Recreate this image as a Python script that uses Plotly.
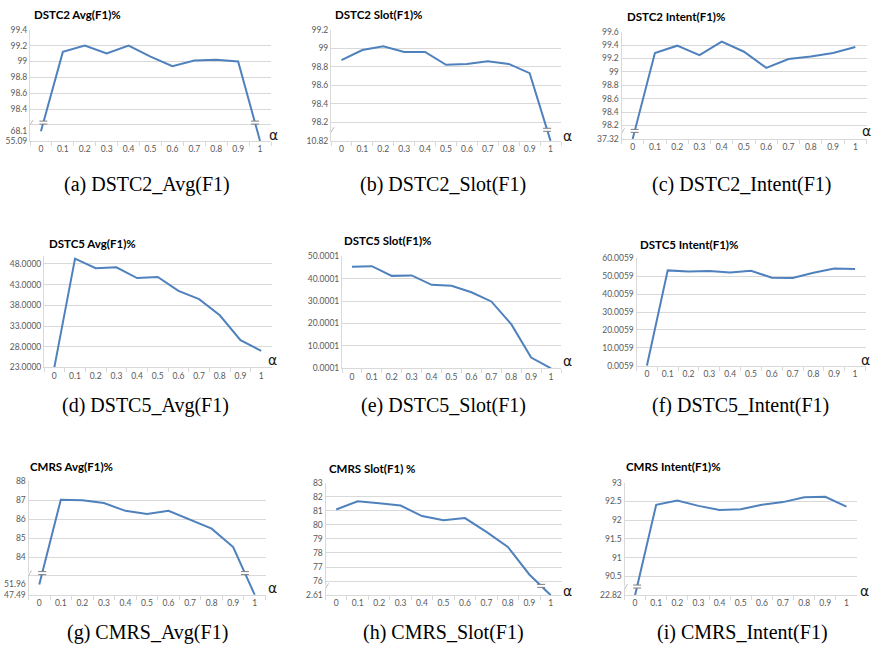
import numpy as np
import plotly.graph_objects as go

# ---------------- data ----------------
alpha = ["0", "0.1", "0.2", "0.3", "0.4", "0.5", "0.6", "0.7", "0.8", "0.9", "1"]

dstc2_avg = [68.1, 99.12, 99.20, 99.10, 99.20, 99.06, 98.94, 99.01, 99.02, 99.00, 55.09]
dstc2_slot = [98.87, 98.98, 99.02, 98.96, 98.96, 98.82, 98.83, 98.86, 98.83, 98.73, 10.82]
dstc2_intent = [37.32, 99.28, 99.39, 99.25, 99.45, 99.30, 99.06, 99.19, 99.23, 99.28, 99.37]

dstc5_avg = [23.0, 49.3, 47.0, 47.2, 44.6, 44.85, 41.5, 39.5, 35.6, 29.6, 27.0]
dstc5_slot = [45.3, 45.5, 41.2, 41.4, 37.2, 36.8, 33.9, 29.8, 19.7, 4.8, 0.0001]
dstc5_intent = [0.0059, 53.3, 52.7, 53.0, 52.1, 53.1, 49.2, 49.0, 52.0, 54.3, 54.1]

cmrs_avg = [51.96, 87.03, 87.00, 86.85, 86.44, 86.28, 86.44, 85.98, 85.50, 84.53, 47.49]
cmrs_slot = [81.09, 81.67, 81.53, 81.37, 80.62, 80.32, 80.48, 79.50, 78.43, 76.47, 2.61]
cmrs_intent = [22.82, 92.41, 92.52, 92.38, 92.27, 92.29, 92.41, 92.48, 92.61, 92.62, 92.36]

titles = ["DSTC2 Avg(F1)%", "DSTC2 Slot(F1)%", "DSTC2 Intent(F1)%",
          "DSTC5 Avg(F1)%", "DSTC5 Slot(F1)%", "DSTC5 Intent(F1)%",
          "CMRS Avg(F1)%", "CMRS Slot(F1) %", "CMRS Intent(F1)%"]
captions = ["(a) DSTC2_Avg(F1)", "(b) DSTC2_Slot(F1)", "(c) DSTC2_Intent(F1)",
            "(d) DSTC5_Avg(F1)", "(e) DSTC5_Slot(F1)", "(f) DSTC5_Intent(F1)",
            "(g) CMRS_Avg(F1)", "(h) CMRS_Slot(F1)", "(i) CMRS_Intent(F1)"]

# y tick values of the (unbroken) upper part of each axis
ticks_a = [98.4, 98.6, 98.8, 99.0, 99.2, 99.4]
ticks_b = [98.2, 98.4, 98.6, 98.8, 99.0, 99.2]
ticks_c = [98.2, 98.4, 98.6, 98.8, 99.0, 99.2, 99.4, 99.6]
ticks_d = [23, 28, 33, 38, 43, 48]
ticks_e = [0.0001, 10.0001, 20.0001, 30.0001, 40.0001, 50.0001]
ticks_f = [0.0059, 10.0059, 20.0059, 30.0059, 40.0059, 50.0059, 60.0059]
ticks_g = [84, 85, 86, 87, 88]
ticks_h = [76, 77, 78, 79, 80, 81, 82, 83]
ticks_i = [90.5, 91, 91.5, 92, 92.5, 93]

# ---------------- layout config ----------------
W, H = 871, 656
BLUE = "#4F81BD"
GRID = "#D9D9D9"
TICKC = "#595959"


def fx(p):
    return p / W


def fy(p):
    return 1 - p / H


def fmt_plain(v):
    s = ("%.2f" % v).rstrip("0").rstrip(".")
    return s


panels = [
    dict(values=dstc2_avg, xd=(30, 271), yd=(25, 138), yr=(98.0, 99.4),
         ticks=ticks_a, fmt=fmt_plain, grid=[98.2] + ticks_a, brk=98.23,
         low_real=[dstc2_avg[10], dstc2_avg[0]], low_disp=[98.0, 98.12],
         tpos=(32, 10), apos=(273, 132), cap=(147, 182)),
    dict(values=dstc2_slot, xd=(331, 561), yd=(25, 138), yr=(98.0, 99.2),
         ticks=ticks_b, fmt=fmt_plain, grid=ticks_b, brk=98.12,
         low_real=[dstc2_slot[10]], low_disp=[98.0],
         tpos=(333, 10), apos=(567, 133), cap=(443, 182)),
    dict(values=dstc2_intent, xd=(621.5, 866.5), yd=(27, 136), yr=(98.0, 99.6),
         ticks=ticks_c, fmt=fmt_plain, grid=ticks_c, brk=98.12,
         low_real=[dstc2_intent[0]], low_disp=[98.0],
         tpos=(625, 12), apos=(866, 128), cap=(741, 182)),
    dict(values=dstc5_avg, xd=(44, 271.5), yd=(254.6, 368), yr=(23, 50),
         ticks=ticks_d, fmt=lambda v: "%.4f" % v, grid=ticks_d, brk=None,
         tpos=(47, 242), apos=(272, 360), cap=(145, 407)),
    dict(values=dstc5_slot, xd=(342, 561), yd=(255, 369), yr=(0.0001, 50.0001),
         ticks=ticks_e, fmt=lambda v: "%.4f" % v, grid=ticks_e, brk=None,
         tpos=(342, 239), apos=(567, 362), cap=(443, 407)),
    dict(values=dstc5_intent, xd=(636.5, 865.5), yd=(257.3, 366.3), yr=(0.0059, 60.0059),
         ticks=ticks_f, fmt=lambda v: "%.4f" % v, grid=ticks_f, brk=None,
         tpos=(638, 243), apos=(865, 360), cap=(740, 407)),
    dict(values=cmrs_avg, xd=(28.5, 265.5), yd=(483.7, 599), yr=(82.0, 88.0),
         ticks=ticks_g, fmt=fmt_plain, grid=[83] + ticks_g, brk=83.15,
         low_real=[cmrs_avg[10], cmrs_avg[0]], low_disp=[82.0, 82.55],
         tpos=(28, 469), apos=(272, 592), cap=(147, 637)),
    dict(values=cmrs_slot, xd=(325.5, 561.5), yd=(485, 599.3), yr=(75.0, 83.0),
         ticks=ticks_h, fmt=fmt_plain, grid=ticks_h, brk=75.66,
         low_real=[cmrs_slot[10]], low_disp=[75.0],
         tpos=(327, 471), apos=(567, 595), cap=(443, 637)),
    dict(values=cmrs_intent, xd=(624.5, 857), yd=(485, 599.3), yr=(90.0, 93.0),
         ticks=ticks_i, fmt=fmt_plain, grid=ticks_i, brk=90.23,
         low_real=[cmrs_intent[0]], low_disp=[90.0],
         tpos=(624, 469), apos=(864, 595), cap=(742, 637)),
]


def to_disp(v, p):
    if p["brk"] is None or v >= p["brk"]:
        return v
    return float(np.interp(v, p["low_real"], p["low_disp"]))


fig = go.Figure()
layout = dict(width=W, height=H, margin=dict(l=0, r=0, t=0, b=0),
              paper_bgcolor="white", plot_bgcolor="white", showlegend=False)
annotations = []
shapes = []

for k, p in enumerate(panels):
    n = "" if k == 0 else str(k + 1)
    xa, ya = "x" + n, "y" + n
    disp = [to_disp(v, p) for v in p["values"]]
    fig.add_trace(go.Scatter(
        x=alpha, y=disp, customdata=p["values"], mode="lines",
        line=dict(color=BLUE, width=2), xaxis=xa, yaxis=ya,
        hovertemplate="α=%{x}<br>%{customdata}<extra></extra>"))

    tickvals = list(p["ticks"])
    ticktext = [p["fmt"](v) for v in p["ticks"]]
    if p["brk"] is not None:
        for r, d in zip(p["low_real"], p["low_disp"]):
            tickvals.append(d)
            ticktext.append(str(r))

    layout["xaxis" + n] = dict(
        domain=[fx(p["xd"][0]), fx(p["xd"][1])], anchor=ya, type="category",
        range=[-0.5, len(alpha) - 0.5], showgrid=False, zeroline=False,
        showline=True, linecolor=GRID, linewidth=1, tickangle=0,
        ticks="outside", tickson="boundaries", ticklen=4, tickcolor=GRID,
        tickfont=dict(family="Lato", size=8.5, color=TICKC), fixedrange=True)
    layout["yaxis" + n] = dict(
        domain=[fy(p["yd"][1]), fy(p["yd"][0])], anchor=xa,
        range=list(p["yr"]), tickmode="array", tickvals=tickvals, ticktext=ticktext,
        showgrid=False, zeroline=False, showline=True, linecolor=GRID, linewidth=1,
        ticks="", tickfont=dict(family="Lato", size=8.5, color=TICKC),
        minor=dict(tickmode="array", tickvals=p["grid"], showgrid=True,
                   gridcolor=GRID, gridwidth=1, ticks=""),
        fixedrange=True)

    # break markers computed where the line crosses the break level
    if p["brk"] is not None:
        b = p["brk"]
        for i in range(len(disp) - 1):
            y0, y1 = disp[i], disp[i + 1]
            if (y0 - b) * (y1 - b) < 0:
                xc = i + (b - y0) / (y1 - y0)
                common = dict(xref=xa, yref=ya, xsizemode="pixel", ysizemode="pixel",
                              xanchor=xc, yanchor=b, layer="above")
                shapes.append(dict(type="rect", x0=-4, x1=4, y0=-1.5, y1=1.5,
                                   fillcolor="white", line=dict(width=0), **common))
                for dy in (-1.5, 1.5):
                    shapes.append(dict(type="line", x0=-4, x1=4, y0=dy, y1=dy,
                                       line=dict(color="#7F7F7F", width=1), **common))
        # axis break mark
        common = dict(xref=xa, yref=ya, xsizemode="pixel", ysizemode="pixel",
                      xanchor=-0.5, yanchor=b, layer="above")
        shapes.append(dict(type="rect", x0=-2, x1=2, y0=-2, y1=2,
                           fillcolor="white", line=dict(width=0), **common))
        for dx in (-1.5, 1.5):
            shapes.append(dict(type="line", x0=dx - 1.5, x1=dx + 1.5, y0=-2.5, y1=2.5,
                               line=dict(color="#A6A6A6", width=0.8), **common))

    annotations.append(dict(text="<b>%s</b>" % titles[k], xref="paper", yref="paper",
                            x=fx(p["tpos"][0]), y=fy(p["tpos"][1]), xanchor="left",
                            yanchor="middle", showarrow=False,
                            font=dict(family="Lato", size=11.5, color="#000000")))
    annotations.append(dict(text="α", xref="paper", yref="paper",
                            x=fx(p["apos"][0]), y=fy(p["apos"][1]), xanchor="center",
                            yanchor="middle", showarrow=False,
                            font=dict(family="DejaVu Sans", size=14, color="#1a1a1a")))
    annotations.append(dict(text=captions[k], xref="paper", yref="paper",
                            x=fx(p["cap"][0]), y=fy(p["cap"][1]), xanchor="center",
                            yanchor="middle", showarrow=False,
                            font=dict(family="Liberation Serif", size=20, color="#000000")))

layout["annotations"] = annotations
layout["shapes"] = shapes
fig.update_layout(**layout)
fig.write_html("out.html")
